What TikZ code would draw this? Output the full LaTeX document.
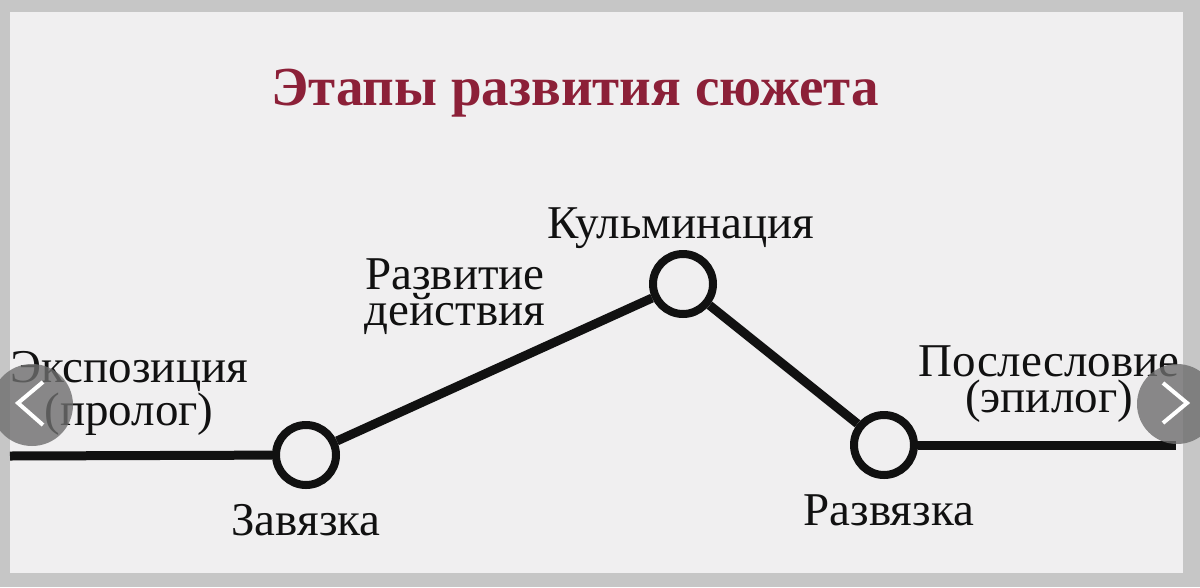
\documentclass[tikz,border=0pt]{standalone}
\usepackage{fontspec}
\setmainfont{Liberation Serif}
\usepackage{xcolor}
\usepackage{tikz}

\definecolor{titlered}{HTML}{8C2038}
\definecolor{framegray}{HTML}{C6C6C6}
\definecolor{panel}{HTML}{F0EFF0}
\definecolor{ink}{HTML}{111111}
\definecolor{navgray}{HTML}{6E6E6E}

\begin{document}
\begin{tikzpicture}[x=1pt,y=-1pt]
\fill[framegray] (0,0) rectangle (1200,587);
\fill[panel] (10,12) rectangle (1183,573);
\useasboundingbox (0,0) rectangle (1200,587);

\node[titlered, font=\fontsize{55}{60}\selectfont\bfseries, anchor=base] (title) at (575,105) {Этапы развития сюжета};

\begin{scope}[every node/.style={circle,draw=ink,line width=8pt,minimum size=60pt,inner sep=0pt}]
  \node (Z) at (306,455) {};
  \node (K) at (683,284) {};
  \node (R) at (884,445) {};
\end{scope}
\coordinate (L) at (10,456);
\coordinate (E) at (1176,445);

\begin{scope}[every edge/.style={draw=ink, line width=9pt}]
    \path (L) edge (Z);
    \path (Z) edge (K);
    \path (K) edge (R);
    \path (R) edge (E);
\end{scope}

% base = baseline of the last line
\begin{scope}[every node/.style={ink,font=\fontsize{47}{36}\selectfont,align=center,anchor=base}]
  \node (expo) at (129,425) {Экспозиция\\(пролог)};
  \node (zavT) at (306,535) {Завязка};
  \node (razvit) at (455,325) {Развитие\\действия};
  \node (kulT) at (681,238) {Кульминация};
  \node (razvT) at (889,525) {Развязка};
  \node (epil) at (1049,412) {Послесловие\\(эпилог)};
\end{scope}

% carousel buttons
\fill[navgray, opacity=0.8] (32,405) circle (41pt);
\draw[white, line width=4pt] (43,382) -- (18,403) -- (43,425);
\fill[navgray, opacity=0.8] (1177,404) circle (40pt);
\draw[white, line width=4pt] (1163,383) -- (1187,403) -- (1163,423);

\end{tikzpicture}
\end{document}
